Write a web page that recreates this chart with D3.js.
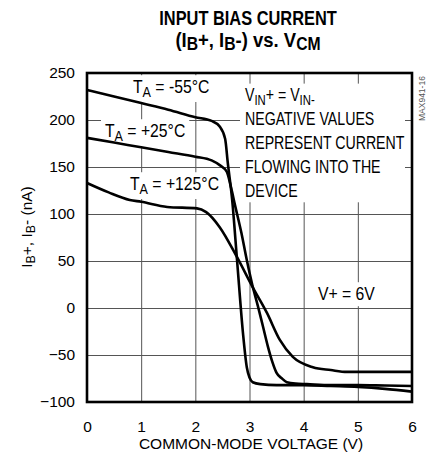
<!DOCTYPE html>
<html>
<head>
<meta charset="utf-8">
<script src="https://cdn.jsdelivr.net/npm/d3@7"></script>
<style>
  body { margin: 0; background: #fff; }
  svg { font-family: "Liberation Sans", Arial, sans-serif; }
</style>
</head>
<body>
<svg id="chart" width="437" height="459"></svg>
<script>
// tick labels
const xTicks = [0, 1, 2, 3, 4, 5, 6]
const yTicks = [-100, -50, 0, 50, 100, 150, 200, 250]

// TA = -55C
const vcmCold = [0, 0.5, 1, 1.5, 2, 2.3, 2.45, 2.55, 2.6, 2.68, 2.77, 2.88, 2.95, 3.0, 3.06, 3.2, 3.5, 4, 4.5, 5, 5.5, 6]
const ibCold = [232, 225, 218, 211, 203, 199, 193, 180, 154, 115, 51, -27, -63, -74, -79, -81, -82, -82, -83, -84, -86, -89]

// TA = +25C
const vcmRoom = [0, 0.5, 1, 1.5, 2, 2.3, 2.45, 2.58, 2.66, 2.73, 2.85, 2.95, 3.05, 3.16, 3.25, 3.34, 3.42, 3.5, 3.6, 3.69, 3.85, 4.06, 4.5, 5, 5.5, 6]
const ibRoom = [181, 176, 171, 166, 161, 157, 152, 145, 128, 110, 80, 51, 25, 1, -20, -41, -57, -69, -75, -79, -80.5, -81, -82, -82, -82.5, -83]

// TA = +125C
const vcmHot = [0, 0.4, 0.79, 1, 1.48, 2.03, 2.2, 2.45, 2.77, 3.06, 3.32, 3.56, 3.8, 4.17, 4.5, 4.8, 5.5, 6]
const ibHot = [133, 123, 115, 113, 107.5, 106, 102, 86, 54, 22, -5, -34, -52, -63, -66, -68, -68, -68]

const margin = { top: 73, right: 25, bottom: 57, left: 87 }
const width = 437 - margin.left - margin.right
const height = 459 - margin.top - margin.bottom

const svg = d3.select('#chart')
const g = svg.append('g').attr('transform', `translate(${margin.left},${margin.top})`)

const x = d3.scaleLinear().domain([0, 6]).range([0, width])
const y = d3.scaleLinear().domain([-100, 250]).range([height, 0])

// write text with subscripts: parts = [[text, isSub], ...]
function rich(sel, parts, size, subRatio = 0.72, drop = 0.28) {
  let low = false
  parts.forEach(([t, sub]) => {
    const shift = size * drop
    const dy = sub && !low ? shift : (!sub && low ? -shift : 0)
    low = !!sub
    sel.append('tspan').text(t)
      .attr('font-size', sub ? size * subRatio : size)
      .attr('dy', dy)
  })
  return sel
}

// grid + tick labels
const xAxis = g.append('g')
  .attr('transform', `translate(0,${height})`)
  .call(d3.axisBottom(x).tickValues(xTicks).tickSize(-height).tickPadding(19).tickFormat(d3.format('d')))
const yAxis = g.append('g')
  .call(d3.axisLeft(y).tickValues(yTicks).tickSize(-width).tickPadding(12).tickFormat(d3.format('d')))

;[xAxis, yAxis].forEach(a => {
  a.select('.domain').remove()
  a.selectAll('line').attr('stroke', '#555').attr('stroke-width', 1)
  a.selectAll('text').attr('font-size', 15.5).attr('fill', '#000')
    .attr('font-family', '"Liberation Sans", Arial, sans-serif')
})

// condensed label with white background
function label(parent, px, py, lines, size, lineGap, squeeze = 0.93) {
  const grp = parent.append('g')
  const bg = grp.append('rect').attr('fill', '#fff')
  const txt = grp.append('g')
  lines.forEach((parts, i) => {
    rich(txt.append('text')
      .attr('transform', `translate(${px},${py + i * lineGap}) scale(${squeeze},1)`), parts, size, 0.8, 0.22)
  })
  const b = txt.node().getBBox()
  bg.attr('x', b.x - 4).attr('y', b.y - 2).attr('width', b.width + 8).attr('height', b.height + 4)
  return grp
}

const labels = g.append('g')
label(labels, 133 - margin.left, 93 - margin.top, [[['T'], ['A', 1], [' = -55°C']]], 17.5, 0, 0.9)
label(labels, 105 - margin.left, 137 - margin.top, [[['T'], ['A', 1], [' = +25°C']]], 17.5, 0, 0.9)
label(labels, 130 - margin.left, 190 - margin.top, [[['T'], ['A', 1], [' = +125°C']]], 17.5, 0, 0.9)
const note = label(labels, 245 - margin.left, 101 - margin.top, [
  [['V'], ['IN', 1], ['+ = V'], ['IN', 1], ['-', 1]],
  [['NEGATIVE VALUES']],
  [['REPRESENT CURRENT']],
  [['FLOWING INTO THE']],
  [['DEVICE']]
], 17.5, 24, 0.81)
note.select('rect').attr('width', 405 - 240).attr('x', 240 - margin.left)
label(labels, 318 - margin.left, 300 - margin.top, [[['V+ = 6V']]], 17.5, 0, 0.9)

// curves
const line = d3.line().x(d => x(d[0])).y(d => y(d[1])).curve(d3.curveMonotoneX)
const series = [
  d3.zip(vcmCold, ibCold),
  d3.zip(vcmRoom, ibRoom),
  d3.zip(vcmHot, ibHot)
]
g.selectAll('.curve')
  .data(series)
  .enter()
  .append('path')
  .attr('class', 'curve')
  .attr('d', line)
  .attr('fill', 'none')
  .attr('stroke', '#000')
  .attr('stroke-width', 2.6)

// frame
g.append('rect')
  .attr('width', width).attr('height', height)
  .attr('fill', 'none').attr('stroke', '#000').attr('stroke-width', 2.6)

// titles (condensed bold)
rich(svg.append('text').attr('transform', 'translate(248,25) scale(0.82,1)')
  .attr('text-anchor', 'middle').attr('font-weight', 'bold'), [['INPUT BIAS CURRENT']], 20)
rich(svg.append('text').attr('transform', 'translate(248,47) scale(0.88,1)')
  .attr('text-anchor', 'middle').attr('font-weight', 'bold'),
  [['(I'], ['B', 1], ['+, I'], ['B', 1], ['-) vs. V'], ['CM', 1]], 21, 0.85, 0.14)

svg.append('text').attr('x', 251).attr('y', 449).attr('text-anchor', 'middle')
  .attr('font-size', 15.5).text('COMMON-MODE VOLTAGE (V)')

rich(svg.append('text').attr('transform', 'translate(32,227) rotate(-90)').attr('text-anchor', 'middle'),
  [['I'], ['B', 1], ['+, I'], ['B', 1], ['- (nA)']], 15.5, 0.8, 0.22)

svg.append('text')
  .attr('transform', 'translate(425,121) rotate(-90)')
  .attr('font-size', 8.5).attr('fill', '#555').text('MAX941-16')
</script>
</body>
</html>
